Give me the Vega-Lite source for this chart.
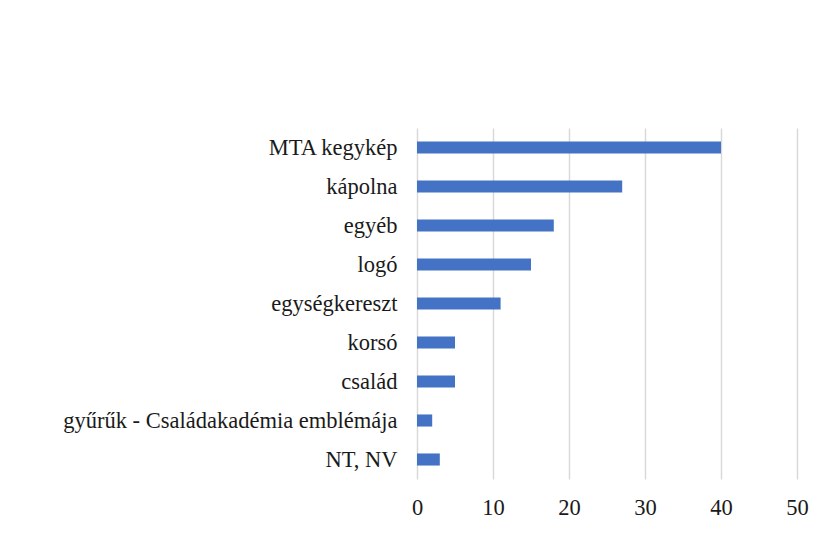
{
  "$schema": "https://vega.github.io/schema/vega-lite/v6.json",
  "width": 380,
  "height": 351,
  "autosize": {"type": "none"},
  "padding": {"left": 417, "top": 128, "right": 21, "bottom": 56},
  "background": "white",
  "config": {
    "view": {"stroke": null},
    "font": "Liberation Serif"
  },
  "data": {
    "values": [
      {"kategoria": "MTA kegykép", "ertek": 40},
      {"kategoria": "kápolna", "ertek": 27},
      {"kategoria": "egyéb", "ertek": 18},
      {"kategoria": "logó", "ertek": 15},
      {"kategoria": "egységkereszt", "ertek": 11},
      {"kategoria": "korsó", "ertek": 5},
      {"kategoria": "család", "ertek": 5},
      {"kategoria": "gyűrűk - Családakadémia emblémája", "ertek": 2},
      {"kategoria": "NT, NV", "ertek": 3}
    ]
  },
  "mark": {"type": "bar", "color": "#4472C4"},
  "encoding": {
    "y": {
      "field": "kategoria",
      "type": "nominal",
      "sort": null,
      "title": null,
      "scale": {"paddingInner": 0.69, "paddingOuter": 0.345},
      "axis": {
        "ticks": false,
        "domain": false,
        "labelPadding": 20,
        "labelFont": "Liberation Serif",
        "labelFontSize": 22.5,
        "labelColor": "#1a1a1a",
        "labelLimit": 500
      }
    },
    "x": {
      "field": "ertek",
      "type": "quantitative",
      "title": null,
      "scale": {"domain": [0, 50], "nice": false},
      "axis": {
        "values": [0, 10, 20, 30, 40, 50],
        "ticks": false,
        "domain": false,
        "grid": true,
        "gridColor": "#d9d9d9",
        "gridWidth": 1.5,
        "labelFlush": false,
        "labelPadding": 17,
        "labelFont": "Liberation Serif",
        "labelFontSize": 22.5,
        "labelColor": "#1a1a1a"
      }
    }
  }
}
